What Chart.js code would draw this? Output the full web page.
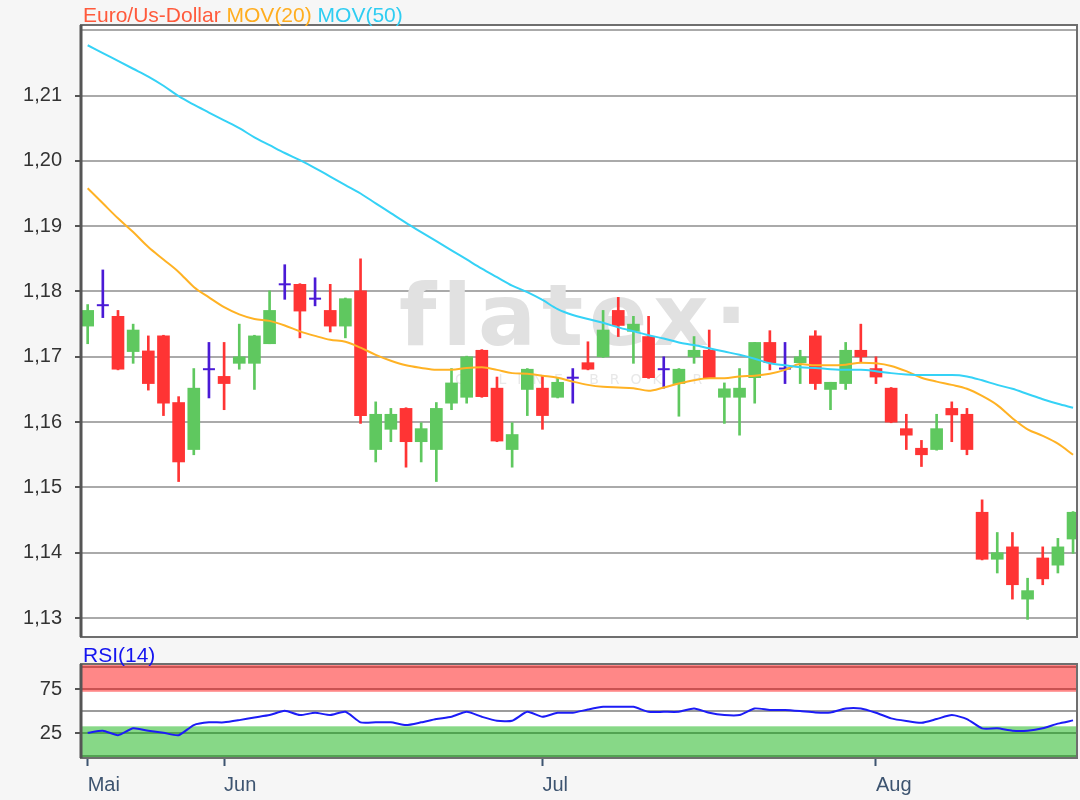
<!DOCTYPE html>
<html>
<head>
<meta charset="utf-8">
<title>Euro/Us-Dollar</title>
<script src="https://cdn.jsdelivr.net/npm/chart.js@4.4.0/dist/chart.umd.min.js"></script>
<style>
    body { margin: 0; background: #f6f6f6; font-family: "Liberation Sans", Arial, sans-serif; }
    #wrap { position: relative; width: 1080px; height: 800px; }
    .box { position: absolute; left: 0; width: 1080px; }
    .box canvas { display: block; }
    .lbl { position: absolute; left: 83px; font-size: 21px; line-height: 21px; white-space: pre; }
</style>
</head>
<body>
<div id="wrap">
    <div class="box" style="top:0;height:640px"><canvas id="priceChart" width="1080" height="640"></canvas></div>
    <div class="box" style="top:640px;height:160px"><canvas id="rsiChart" width="1080" height="160"></canvas></div>
    <div class="lbl" style="top:4px"><span style="color:#ff5a3c">Euro/Us-Dollar</span> <span style="color:#ffad1f">MOV(20)</span> <span style="color:#2fcdf2">MOV(50)</span></div>
    <div class="lbl" style="top:644px;color:#1414f0">RSI(14)</div>
</div>
<script>
// Handelstage (Kategorien)
const dates = [
    '2018-05-21', '2018-05-22', '2018-05-23', '2018-05-24', '2018-05-25', '2018-05-28', '2018-05-29', '2018-05-30', '2018-05-31',
    '2018-06-01', '2018-06-04', '2018-06-05', '2018-06-06', '2018-06-07', '2018-06-08', '2018-06-11', '2018-06-12', '2018-06-13',
    '2018-06-14', '2018-06-15', '2018-06-18', '2018-06-19', '2018-06-20', '2018-06-21', '2018-06-22', '2018-06-25', '2018-06-26',
    '2018-06-27', '2018-06-28', '2018-06-29',
    '2018-07-02', '2018-07-03', '2018-07-04', '2018-07-05', '2018-07-06', '2018-07-09', '2018-07-10', '2018-07-11', '2018-07-12',
    '2018-07-13', '2018-07-16', '2018-07-17', '2018-07-18', '2018-07-19', '2018-07-20', '2018-07-23', '2018-07-24', '2018-07-25',
    '2018-07-26', '2018-07-27', '2018-07-30', '2018-07-31',
    '2018-08-01', '2018-08-02', '2018-08-03', '2018-08-06', '2018-08-07', '2018-08-08', '2018-08-09', '2018-08-10', '2018-08-13',
    '2018-08-14', '2018-08-15', '2018-08-16', '2018-08-17', '2018-08-20'
];

const openP = [
    1.1747, 1.1779, 1.1762, 1.1708, 1.1709, 1.1732, 1.1630, 1.1558, 1.1681, 1.1670,
    1.1690, 1.1690, 1.1720, 1.1811, 1.1811, 1.1789, 1.1771, 1.1747, 1.1801, 1.1558,
    1.1589, 1.1621, 1.1570, 1.1558, 1.1629, 1.1638, 1.1710, 1.1652, 1.1558, 1.1650,
    1.1652, 1.1638, 1.1668, 1.1691, 1.1700, 1.1771, 1.1739, 1.1731, 1.1681, 1.1659,
    1.1700, 1.1710, 1.1638, 1.1638, 1.1668, 1.1722, 1.1682, 1.1691, 1.1732, 1.1650,
    1.1659, 1.1710, 1.1682, 1.1652, 1.1590, 1.1560, 1.1558, 1.1621, 1.1612, 1.1462,
    1.1390, 1.1409, 1.1329, 1.1392, 1.1381, 1.1421
];
const highP = [
    1.1780, 1.1833, 1.1771, 1.1750, 1.1732, 1.1733, 1.1639, 1.1682, 1.1722, 1.1722,
    1.1750, 1.1733, 1.1801, 1.1841, 1.1812, 1.1821, 1.1811, 1.1790, 1.1850, 1.1631,
    1.1621, 1.1622, 1.1599, 1.1630, 1.1682, 1.1701, 1.1711, 1.1669, 1.1599, 1.1682,
    1.1670, 1.1668, 1.1682, 1.1723, 1.1771, 1.1791, 1.1762, 1.1762, 1.1700, 1.1682,
    1.1731, 1.1741, 1.1660, 1.1682, 1.1722, 1.1740, 1.1722, 1.1710, 1.1740, 1.1661,
    1.1722, 1.1750, 1.1700, 1.1653, 1.1612, 1.1572, 1.1612, 1.1631, 1.1621, 1.1481,
    1.1431, 1.1431, 1.1361, 1.1409, 1.1422, 1.1463
];
const lowP = [
    1.1720, 1.1760, 1.1680, 1.1690, 1.1649, 1.1610, 1.1509, 1.1550, 1.1637, 1.1619,
    1.1681, 1.1650, 1.1720, 1.1788, 1.1729, 1.1778, 1.1738, 1.1729, 1.1598, 1.1539,
    1.1570, 1.1531, 1.1539, 1.1509, 1.1619, 1.1629, 1.1638, 1.1570, 1.1531, 1.1610,
    1.1589, 1.1637, 1.1629, 1.1680, 1.1699, 1.1731, 1.1690, 1.1667, 1.1652, 1.1609,
    1.1690, 1.1667, 1.1598, 1.1580, 1.1629, 1.1680, 1.1659, 1.1659, 1.1650, 1.1619,
    1.1650, 1.1691, 1.1659, 1.1599, 1.1558, 1.1532, 1.1557, 1.1570, 1.1550, 1.1389,
    1.1369, 1.1329, 1.1298, 1.1351, 1.1369, 1.1399
];
const closeP = [
    1.1771, 1.1779, 1.1681, 1.1741, 1.1659, 1.1629, 1.1539, 1.1652, 1.1681, 1.1659,
    1.1700, 1.1732, 1.1771, 1.1811, 1.1770, 1.1789, 1.1747, 1.1789, 1.1610, 1.1612,
    1.1612, 1.1570, 1.1590, 1.1621, 1.1660, 1.1700, 1.1639, 1.1571, 1.1581, 1.1681,
    1.1610, 1.1661, 1.1668, 1.1681, 1.1741, 1.1748, 1.1750, 1.1668, 1.1681, 1.1681,
    1.1710, 1.1668, 1.1651, 1.1652, 1.1722, 1.1691, 1.1682, 1.1700, 1.1659, 1.1661,
    1.1710, 1.1700, 1.1669, 1.1600, 1.1580, 1.1550, 1.1590, 1.1611, 1.1558, 1.1390,
    1.1400, 1.1351, 1.1342, 1.1360, 1.1409, 1.1462
];

const mov20 = [
    1.1958, 1.1935, 1.1912, 1.1891, 1.1868, 1.1849, 1.1830, 1.1807, 1.1791, 1.1776,
    1.1765, 1.1758, 1.1755, 1.1748, 1.1739, 1.1732, 1.1726, 1.1723, 1.1714, 1.1703,
    1.1694, 1.1687, 1.1683, 1.1680, 1.1680, 1.1683, 1.1684, 1.1680, 1.1675, 1.1674,
    1.1671, 1.1668, 1.1662, 1.1657, 1.1654, 1.1653, 1.1652, 1.1648, 1.1653, 1.1659,
    1.1664, 1.1667, 1.1667, 1.1670, 1.1671, 1.1674, 1.1680, 1.1689, 1.1687, 1.1687,
    1.1688, 1.1691, 1.1690, 1.1686, 1.1678, 1.1668, 1.1662, 1.1657, 1.1651, 1.1640,
    1.1626, 1.1606, 1.1589, 1.1579, 1.1567, 1.1550
];
const mov50 = [
    1.2177, 1.2165, 1.2153, 1.2141, 1.2129, 1.2115, 1.2099, 1.2086, 1.2074, 1.2062,
    1.2050, 1.2036, 1.2024, 1.2012, 1.2001, 1.1989, 1.1976, 1.1963, 1.1950, 1.1935,
    1.1920, 1.1905, 1.1891, 1.1877, 1.1863, 1.1849, 1.1835, 1.1822, 1.1809, 1.1799,
    1.1787, 1.1773, 1.1764, 1.1758, 1.1752, 1.1745, 1.1739, 1.1733, 1.1728, 1.1722,
    1.1718, 1.1713, 1.1708, 1.1703, 1.1697, 1.1690, 1.1687, 1.1684, 1.1683, 1.1681,
    1.1680, 1.1680, 1.1678, 1.1675, 1.1673, 1.1672, 1.1672, 1.1672, 1.1670, 1.1664,
    1.1657, 1.1651, 1.1643, 1.1635, 1.1628, 1.1622
];
const rsi14 = [
    25.7, 28.0, 23.0, 30.7, 28.0, 25.7, 23.0, 34.4, 37.5, 37.5,
    40.0, 43.0, 45.7, 50.5, 45.7, 48.3, 45.7, 49.4, 37.5, 37.5,
    37.5, 34.4, 37.5, 41.2, 43.8, 49.4, 43.8, 39.3, 39.3, 49.4,
    43.8, 48.3, 48.3, 52.0, 55.0, 55.0, 55.0, 49.4, 49.4, 49.4,
    53.2, 48.3, 45.7, 45.7, 53.2, 51.4, 51.4, 50.2, 48.7, 48.7,
    53.2, 53.2, 48.3, 42.0, 39.0, 37.0, 41.2, 45.7, 41.2, 30.7,
    30.7, 28.0, 28.0, 30.7, 36.0, 39.7
];

const priceTicks = [1.13, 1.14, 1.15, 1.16, 1.17, 1.18, 1.19, 1.20, 1.21, 1.22];
const priceTickLabels = ['1,13', '1,14', '1,15', '1,16', '1,17', '1,18', '1,19', '1,20', '1,21', ''];
const rsiGrid = [0, 25, 50, 75, 100];
const rsiTickLabels = ['', '25', '', '75', ''];
const rsiUpper = 72;
const rsiLower = 33;
const monthNames = { '05': 'Mai', '06': 'Jun', '07': 'Jul', '08': 'Aug' };

const UP = '#5fc85f';
const DOWN = '#ff3434';
const DOJI = '#4a1ad6';
const FONT = '"Liberation Sans", Arial, sans-serif';

Chart.defaults.font.family = FONT;

const monthTicks = [];
const monthLabels = [];
dates.forEach((d, i) => {
    if (i === 0 || d.slice(5, 7) !== dates[i - 1].slice(5, 7)) {
        monthTicks.push(i);
        monthLabels.push(monthNames[d.slice(5, 7)]);
    }
});

function candleColor(i) {
    if (closeP[i] > openP[i]) return UP;
    if (closeP[i] < openP[i]) return DOWN;
    return DOJI;
}

// keine automatischen Ränder für Beschriftungen, Plotbereich bleibt fest
function noScalePadding(scale) {
    scale.paddingTop = 0;
    scale.paddingBottom = 0;
    scale.paddingLeft = 0;
    scale.paddingRight = 0;
}

const idx = dates.map((d, i) => i);
const X_MIN = -0.44;
const X_MAX = 65.26;

const plotBackground = {
    id: 'plotBackground',
    beforeDraw(chart) {
        const { ctx, chartArea } = chart;
        ctx.save();
        ctx.fillStyle = '#ffffff';
        ctx.fillRect(chartArea.left, chartArea.top, chartArea.right - chartArea.left, chartArea.bottom - chartArea.top);
        ctx.restore();
    }
};

const plotFrame = {
    id: 'plotFrame',
    afterDatasetsDraw(chart) {
        const { ctx, chartArea } = chart;
        ctx.save();
        ctx.strokeStyle = '#6e6e6e';
        ctx.lineWidth = 2;
        ctx.strokeRect(chartArea.left, chartArea.top, chartArea.right - chartArea.left, chartArea.bottom - chartArea.top);
        ctx.strokeStyle = '#555555';
        ctx.lineWidth = 3;
        ctx.beginPath();
        ctx.moveTo(chartArea.left, chartArea.top);
        ctx.lineTo(chartArea.left, chartArea.bottom);
        ctx.stroke();
        ctx.restore();
    }
};

const watermark = {
    id: 'watermark',
    beforeDatasetsDraw(chart) {
        const { ctx, chartArea } = chart;
        ctx.save();
        ctx.fillStyle = '#e1e1e1';
        ctx.font = 'bold 86px "DejaVu Sans"';
        ctx.letterSpacing = '6px';
        ctx.fillText('flatex·', chartArea.left + 318, 345);
        ctx.fillStyle = '#e8e8e8';
        ctx.font = '14px "DejaVu Sans"';
        ctx.letterSpacing = '11px';
        ctx.fillText('ONLINE BROKER', chartArea.left + 374, 384);
        ctx.letterSpacing = '0px';
        ctx.restore();
    }
};

const rsiBands = {
    id: 'rsiBands',
    beforeDatasetsDraw(chart) {
        const { ctx, chartArea, scales } = chart;
        const w = chartArea.right - chartArea.left;
        const yUp = scales.y.getPixelForValue(rsiUpper);
        const yLow = scales.y.getPixelForValue(rsiLower);
        ctx.save();
        ctx.fillStyle = 'rgba(255, 0, 0, 0.47)';
        ctx.fillRect(chartArea.left, chartArea.top, w, yUp - chartArea.top);
        ctx.fillStyle = 'rgba(0, 172, 0, 0.47)';
        ctx.fillRect(chartArea.left, yLow, w, chartArea.bottom - yLow);
        ctx.restore();
    }
};

const priceChart = new Chart(document.getElementById('priceChart'), {
    type: 'bar',
    data: {
        datasets: [
            {
                type: 'line',
                label: 'MOV(50)',
                data: idx.map(i => ({ x: i, y: mov50[i] })),
                borderColor: '#35d2f6',
                borderWidth: 2,
                pointRadius: 0,
                cubicInterpolationMode: 'monotone',
                order: 0
            },
            {
                type: 'line',
                label: 'MOV(20)',
                data: idx.map(i => ({ x: i, y: mov20[i] })),
                borderColor: '#ffb224',
                borderWidth: 2,
                pointRadius: 0,
                cubicInterpolationMode: 'monotone',
                order: 0
            },
            {
                type: 'line',
                label: 'Doji',
                data: idx.filter(i => openP[i] === closeP[i]).map(i => ({ x: i, y: openP[i] })),
                showLine: false,
                pointStyle: 'line',
                pointRadius: 6,
                pointBorderWidth: 2,
                pointBorderColor: DOJI,
                pointBackgroundColor: DOJI,
                order: 1
            },
            {
                label: 'Body',
                data: idx.filter(i => openP[i] !== closeP[i]).map(i => ({ x: i, y: [openP[i], closeP[i]] })),
                backgroundColor: ctx => candleColor(ctx.raw.x),
                barThickness: 12,
                grouped: false,
                order: 2
            },
            {
                label: 'Docht',
                data: idx.map(i => ({ x: i, y: [lowP[i], highP[i]] })),
                backgroundColor: ctx => candleColor(ctx.raw.x),
                barThickness: 2,
                grouped: false,
                order: 3
            }
        ]
    },
    options: {
        responsive: false,
        animation: false,
        devicePixelRatio: 1,
        events: [],
        layout: { autoPadding: false, padding: { top: 25, right: 3, bottom: 3, left: 0 } },
        plugins: { legend: { display: false }, tooltip: { enabled: false } },
        scales: {
            x: {
                type: 'linear',
                display: false,
                min: X_MIN,
                max: X_MAX,
                offset: false,
                afterFit: noScalePadding
            },
            y: {
                min: 1.1271,
                max: 1.2208,
                afterBuildTicks: scale => { scale.ticks = priceTicks.map(v => ({ value: v })); },
                afterFit: scale => { scale.width = 81; noScalePadding(scale); },
                ticks: {
                    callback: (v, i) => priceTickLabels[i],
                    autoSkip: false,
                    font: { size: 20 },
                    color: '#333333',
                    padding: 13
                },
                grid: {
                    color: '#aaaaaa',
                    lineWidth: 2,
                    tickLength: 6,
                    tickWidth: 2,
                    tickColor: ctx => (priceTickLabels[ctx.index] ? '#555555' : 'rgba(0,0,0,0)')
                },
                border: { display: false }
            }
        }
    },
    plugins: [plotBackground, watermark, plotFrame]
});

const rsiChart = new Chart(document.getElementById('rsiChart'), {
    type: 'line',
    data: {
        datasets: [{
            label: 'RSI(14)',
            data: idx.map(i => ({ x: i, y: rsi14[i] })),
            borderColor: '#1c1cf6',
            borderWidth: 2,
            pointRadius: 0,
            tension: 0.2
        }]
    },
    options: {
        responsive: false,
        animation: false,
        devicePixelRatio: 1,
        events: [],
        layout: { autoPadding: false, padding: { top: 24, right: 3, bottom: 0, left: 0 } },
        plugins: { legend: { display: false }, tooltip: { enabled: false } },
        scales: {
            x: {
                type: 'linear',
                min: X_MIN,
                max: X_MAX,
                offset: false,
                afterBuildTicks: scale => { scale.ticks = monthTicks.map(v => ({ value: v })); },
                afterFit: scale => { scale.height = 42; noScalePadding(scale); },
                ticks: {
                    callback: (v, i) => monthLabels[i],
                    align: 'start',
                    autoSkip: false,
                    maxRotation: 0,
                    font: { size: 20 },
                    color: '#3d5470',
                    padding: 7
                },
                grid: {
                    drawOnChartArea: false,
                    tickLength: 8,
                    tickWidth: 2,
                    tickColor: '#3d5470'
                },
                border: { display: false }
            },
            y: {
                min: -2.8,
                max: 103.4,
                afterBuildTicks: scale => { scale.ticks = rsiGrid.map(v => ({ value: v })); },
                afterFit: scale => { scale.width = 81; noScalePadding(scale); },
                ticks: {
                    callback: (v, i) => rsiTickLabels[i],
                    autoSkip: false,
                    font: { size: 20 },
                    color: '#333333',
                    padding: 13
                },
                grid: {
                    color: '#9c9c9c',
                    lineWidth: 2,
                    tickLength: 6,
                    tickWidth: 2,
                    tickColor: ctx => (rsiTickLabels[ctx.index] ? '#555555' : 'rgba(0,0,0,0)')
                },
                border: { display: false }
            }
        }
    },
    plugins: [plotBackground, rsiBands, plotFrame]
});
</script>
</body>
</html>
